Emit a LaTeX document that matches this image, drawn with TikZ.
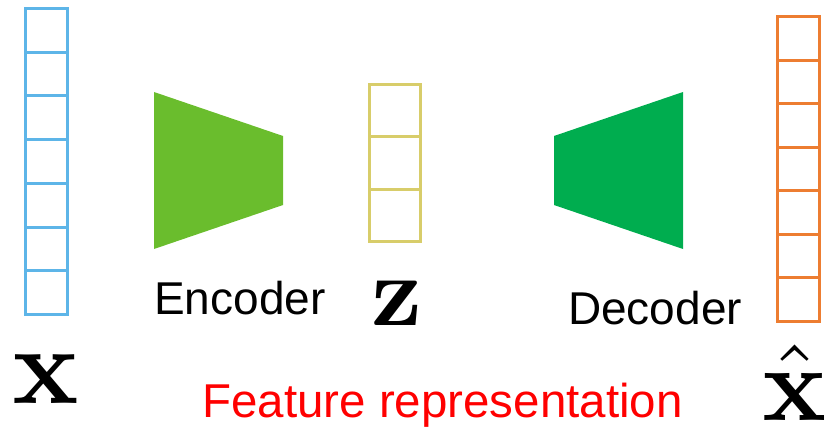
\documentclass[tikz,border=0pt]{standalone}
\usepackage[no-math]{fontspec}
\newfontfamily\arialfont{Liberation Sans}
\definecolor{colblue}{HTML}{5DB5E8}
\definecolor{colyellow}{HTML}{D8CD6A}
\definecolor{colorange}{HTML}{ED7D31}
\definecolor{encgreen}{HTML}{6ABD2D}
\definecolor{decgreen}{HTML}{00AD4F}
\definecolor{featred}{HTML}{FF0000}
\begin{document}
\begin{tikzpicture}[x=1pt,y=-1pt,
  cellline/.style={line width=3pt},
  wordlabel/.style={inner sep=0pt,anchor=base west,font=\arialfont\fontsize{46}{46}\selectfont},
  mathlabel/.style={inner sep=0pt,anchor=base}]
\useasboundingbox (0,0) rectangle (825,428);
% input column x
\foreach \i in {0,...,6}{
  \draw[cellline,colblue] (25.5,{8.5+\i*43.71}) rectangle (67.5,{8.5+(\i+1)*43.71});
}
% latent column z
\foreach \i in {0,...,2}{
  \draw[cellline,colyellow] (369.5,{84.5+\i*52.33}) rectangle (420.5,{84.5+(\i+1)*52.33});
}
% output column x-hat
\foreach \i in {0,...,6}{
  \draw[cellline,colorange] (777.5,{16.5+\i*43.57}) rectangle (819.5,{16.5+(\i+1)*43.57});
}
% encoder and decoder
\fill[encgreen] (154,92) -- (283,136) -- (283,205) -- (154,249) -- cycle;
\fill[decgreen] (554,136) -- (683,92) -- (683,249) -- (554,205) -- cycle;
% labels
\node[mathlabel,scale=11] (xlab) at (46,403) {$\mathbf{x}$};
\node[mathlabel,scale=10] (zlab) at (397,325) {$\mathbf{z}$};
\node[mathlabel,scale=10.6] (xhatlab) at (795,420) {$\hat{\mathbf{x}}$};
\node[wordlabel] (enc) at (154,314) {Encoder};
\node[wordlabel] (dec) at (568,324) {Decoder};
\node[wordlabel,text=featred,font=\arialfont\fontsize{47.5}{47.5}\selectfont] (feat) at (202,417) {Feature representation};
\end{tikzpicture}
\end{document}
